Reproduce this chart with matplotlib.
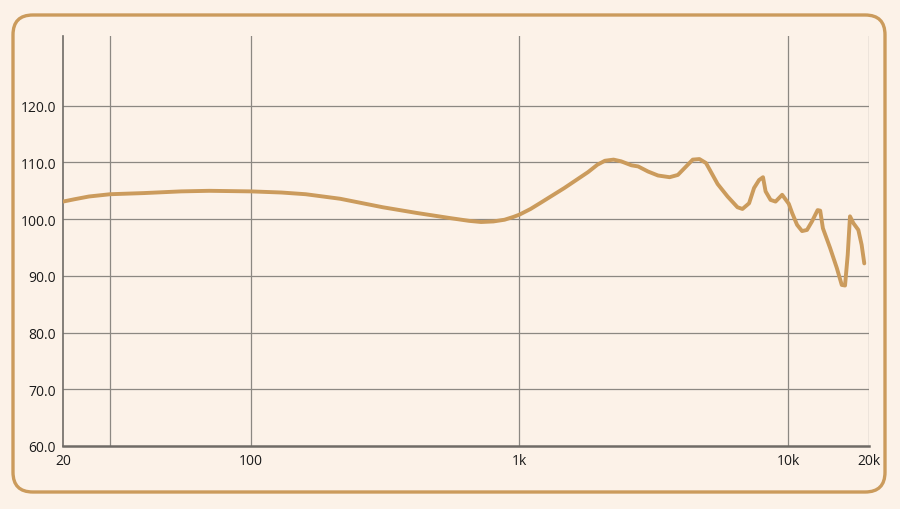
import matplotlib
matplotlib.use('Agg')

import matplotlib.pyplot as plt
import numpy as np
from matplotlib.patches import FancyBboxPatch
from matplotlib.ticker import FixedLocator, NullLocator

# frequency response (Hz, dB)
freq = [20, 22, 25, 30, 40, 55, 70, 100, 130, 160, 215, 310, 414, 550, 650,
        720, 800, 880, 950, 1000, 1100, 1200, 1470, 1800, 1950, 2080, 2240,
        2390, 2610, 2766, 3011, 3279, 3622, 3887, 4173, 4417, 4676, 4947,
        5465, 5951, 6479, 6761, 7156, 7468, 7795, 8063, 8244, 8602, 8979,
        9502, 10060, 10347, 10797, 11268, 11757, 12268, 12877, 13165, 13472,
        14334, 15176, 15836, 16286, 16665, 16994, 17492, 18253, 18774, 19207]
spl = [103.1, 103.5, 104.0, 104.4, 104.6, 104.9, 105.0, 104.9, 104.7, 104.4,
       103.6, 102.1, 101.1, 100.2, 99.7,
       99.5, 99.6, 99.9, 100.4, 100.8, 101.8, 102.9, 105.5, 108.3, 109.6, 110.3, 110.5,
       110.2, 109.5, 109.3, 108.4, 107.7, 107.4, 107.8, 109.3, 110.5, 110.6, 109.9,
       106.2, 104.0, 102.1, 101.8, 102.8, 105.5, 106.9, 107.4, 104.9, 103.4, 103.1,
       104.3, 102.7, 101.1, 99.0, 97.9, 98.1, 99.6, 101.6, 101.5, 98.4,
       94.9, 91.4, 88.4, 88.3, 93.7, 100.5, 99.3, 98.1, 95.5, 92.2]

xticks = [20, 100, 1000, 10000, 20000]
xticklabels = ['20', '100', '1k', '10k', '20k']
vgrid = [30, 100, 1000, 10000, 20000]
yticks = [60, 70, 80, 90, 100, 110, 120]

bg = '#fcf2e8'
tan = '#cb9b5c'
gridc = '#8c8882'

plt.rcParams['font.family'] = ['Open Sans', 'DejaVu Sans']

fig = plt.figure(figsize=(9, 5.1), dpi=100, facecolor=bg)

# rounded frame
frame = FancyBboxPatch((13 / 900, 1 - 493 / 510), 872 / 900, 477 / 510,
                       boxstyle='round,pad=0,rounding_size=0.022',
                       transform=fig.transFigure, facecolor='none',
                       edgecolor=tan, linewidth=2.4, mutation_aspect=900 / 510)
fig.patches.append(frame)

ax = fig.add_axes([63 / 900, 1 - 447 / 510, 806 / 900, 410 / 510])
ax.set_facecolor(bg)
ax.set_xscale('log')
ax.set_xlim(20, 20000)
ax.set_ylim(60, 132.3)

for f in vgrid:
    ax.axvline(f, color=gridc, linewidth=0.9, zorder=1)
for y in yticks[1:]:
    ax.axhline(y, color=gridc, linewidth=0.9, zorder=1)

ax.plot(freq, spl, color=tan, linewidth=2.8, solid_capstyle='round',
        solid_joinstyle='round', zorder=3)

ax.xaxis.set_major_locator(FixedLocator(xticks))
ax.xaxis.set_minor_locator(NullLocator())
ax.set_xticklabels(xticklabels)
ax.set_yticks(yticks)
ax.set_yticklabels([f'{v:.1f}' for v in yticks])
ax.tick_params(length=0, labelsize=10, colors='#1a1a1a', pad=5)

for s in ['top', 'right']:
    ax.spines[s].set_visible(False)
ax.spines['left'].set_color('#6f6b66')
ax.spines['left'].set_linewidth(1.2)
ax.spines['bottom'].set_color('#6f6b66')
ax.spines['bottom'].set_linewidth(1.8)

fig.savefig('out.png', dpi=100, facecolor=bg)
